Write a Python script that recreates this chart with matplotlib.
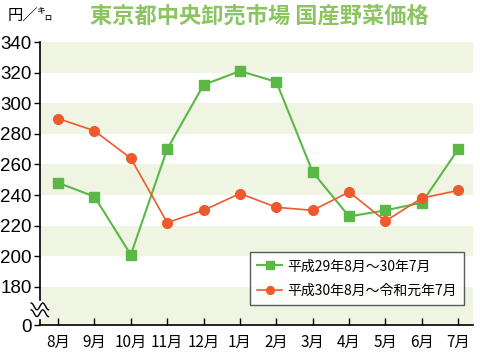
import numpy as np
import matplotlib
matplotlib.use('Agg')
import matplotlib.pyplot as plt

plt.rcParams['font.family'] = ['Noto Sans CJK JP', 'DejaVu Sans']

months = ['8月', '9月', '10月', '11月', '12月', '1月', '2月', '3月', '4月', '5月', '6月', '7月']
h29 = [248, 239, 201, 270, 312, 321, 314, 255, 226, 230, 235, 270]
h30 = [290, 282, 264, 222, 230, 241, 232, 230, 242, 223, 238, 243]
label_h29 = '平成29年8月～30年7月'
label_h30 = '平成30年8月～令和元年7月'
yticks = [180, 200, 220, 240, 260, 280, 300, 320, 340]

ZERO = 155  # where "0" sits on the broken axis

GREEN = '#5bb846'
ORANGE = '#ee5a2e'
BAND = '#eff4e3'

fig = plt.figure(figsize=(4.8, 3.53), dpi=100)
ax = fig.add_axes([0.083, 0.079, 0.902, 0.802])

x = np.arange(len(months))
ax.set_xlim(-0.5, 11.4)
ax.set_ylim(ZERO, 340)

# alternating bands
for lo, hi in [(320, 340), (280, 300), (240, 260), (200, 220), (ZERO, 180)]:
    ax.axhspan(lo, hi, color=BAND, lw=0, zorder=0)

ax.plot(x, h29, color=GREEN, lw=1.5, marker='s', ms=7, mfc=GREEN, mec=GREEN,
        label=label_h29, zorder=3)
ax.plot(x, h30, color=ORANGE, lw=1.2, marker='o', ms=7, mfc=ORANGE, mec=ORANGE,
        label=label_h30, zorder=3)

ax.set_xticks(x)
ax.set_xticklabels(months, fontsize=11)
ax.set_yticks([ZERO] + yticks)
ax.set_yticklabels(['0'] + [str(v) for v in yticks], fontsize=13.5, family='Liberation Sans')
ax.tick_params(axis='x', direction='in', length=5, width=1, pad=6)
ax.tick_params(axis='y', direction='out', length=4, width=1, pad=2)
for s in ['top', 'right']:
    ax.spines[s].set_visible(False)
for s in ['left', 'bottom']:
    ax.spines[s].set_linewidth(1.2)

# axis break mark on left spine
yb = (165 - ZERO) / (340 - ZERO)
ax.add_patch(plt.Rectangle((-0.01, yb - 0.03), 0.02, 0.06, transform=ax.transAxes,
                           color='white', clip_on=False, zorder=5))
t = np.linspace(-0.02, 0.02, 30)
for off in (-0.012, 0.012):
    ax.plot(t, yb + off + 0.012 * np.sin(t / 0.02 * np.pi * 1.5), color='black',
            lw=1, transform=ax.transAxes, clip_on=False, zorder=6)

leg = ax.legend(loc='lower right', bbox_to_anchor=(0.99, 0.055), fontsize=10,
                frameon=True, fancybox=False, edgecolor='#333333',
                handlelength=1.8, handletextpad=0.35, markerscale=0.8,
                borderpad=0.55, labelspacing=0.75, borderaxespad=0.3)
leg.get_frame().set_linewidth(1.0)

fig.text(0.015, 0.958, '円／㌔', fontsize=11, va='center')
fig.text(0.54, 0.955, '東京都中央卸売市場 国産野菜価格', fontsize=16, fontweight='bold',
         color='#8cc462', ha='center', va='center')

fig.savefig('out.png', dpi=100)
